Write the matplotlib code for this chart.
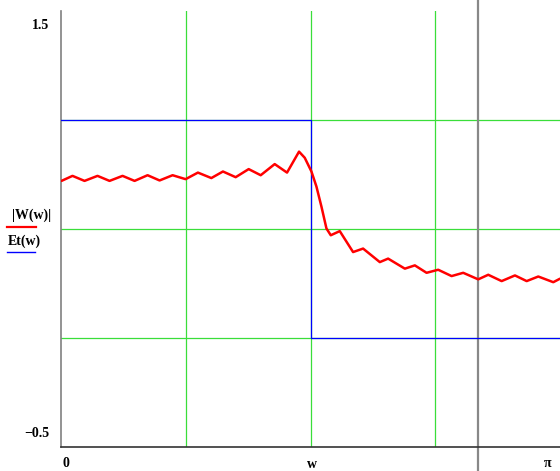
import numpy as np
import matplotlib
matplotlib.use("Agg")
import matplotlib.pyplot as plt

# |W(w)| (peaks / troughs of the ripple)
w_x = [0.0, 0.0694, 0.1451, 0.2271, 0.3028, 0.3848, 0.4605, 0.5425, 0.6182, 0.7002,
       0.7822, 0.8598, 0.9444, 1.0175, 1.0977, 1.1797, 1.2554, 1.3437, 1.4213, 1.4970,
       1.5329, 1.5752, 1.6067, 1.6383, 1.6698, 1.6970, 1.7537, 1.8376, 1.9007, 2.0061,
       2.0584, 2.1638, 2.2269, 2.3007, 2.3739, 2.4584, 2.5316, 2.6262, 2.6893, 2.7738,
       2.8577, 2.9315, 3.0047, 3.0993, 3.1416]
w_y = [0.721, 0.744, 0.721, 0.744, 0.721, 0.744, 0.721, 0.747, 0.723, 0.747,
       0.729, 0.759, 0.734, 0.764, 0.738, 0.775, 0.747, 0.798, 0.759, 0.855,
       0.827, 0.764, 0.695, 0.603, 0.503, 0.472, 0.491, 0.395, 0.411, 0.349,
       0.365, 0.319, 0.334, 0.300, 0.314, 0.285, 0.300, 0.270, 0.291, 0.262,
       0.288, 0.262, 0.283, 0.257, 0.273]

# ideal filter Et(w)
cutoff = np.pi / 2
et_x = [0.0, cutoff, np.pi]
et_y = [1.0, 0.0, 0.0]

grid_x = [np.pi / 4, np.pi / 2, 3 * np.pi / 4]
grid_y = [0.0, 0.5, 1.0]
marker_x = 2.624

fig = plt.figure(figsize=(5.6, 4.71), dpi=100)
ax = fig.add_axes([0.1098, 0.050, 0.8902, 0.927])
ax.set_xlim(0, np.pi)
ax.set_ylim(-0.5, 1.5)

for gx in grid_x:
    ax.axvline(gx, color="#3ade3a", lw=0.9, zorder=1)
for gy in grid_y:
    ax.axhline(gy, color="#3ade3a", lw=0.9, zorder=1)

ax.axvline(marker_x, ymin=-0.06, ymax=1.03, color="#888888", lw=1.6,
           clip_on=False, zorder=2)

ax.plot(et_x, et_y, color="#0000ff", lw=0.9, drawstyle="steps-post", zorder=3)
ax.plot(w_x, w_y, color="#ff0000", lw=1.8, zorder=4,
        solid_joinstyle="round", solid_capstyle="round")

for s in ["top", "right"]:
    ax.spines[s].set_visible(False)
ax.spines["left"].set_color("#808080")
ax.spines["left"].set_linewidth(1.2)
ax.spines["bottom"].set_color("#333333")
ax.spines["bottom"].set_linewidth(1.2)
ax.set_xticks([])
ax.set_yticks([])

fnt = dict(family="Liberation Serif", fontweight="bold", fontsize=10)
ytr = ax.get_yaxis_transform()
xtr = ax.get_xaxis_transform()
ax.annotate("1.5", xy=(0, 1.5), xycoords=ytr, xytext=(-12, -15),
            textcoords="offset pixels", ha="right", va="center", **fnt)
ax.annotate("\u22120.5", xy=(0, -0.5), xycoords=ytr, xytext=(-12, 14),
            textcoords="offset pixels", ha="right", va="center", **fnt)
ax.annotate("0", xy=(0, 0), xycoords=xtr, xytext=(1, -16),
            textcoords="offset pixels", ha="left", va="center", **fnt)
ax.annotate("w", xy=(cutoff, 0), xycoords=xtr, xytext=(1, -17),
            textcoords="offset pixels", ha="center", va="center", **fnt)
ax.annotate("\u03c0", xy=(np.pi, 0), xycoords=xtr, xytext=(-9, -16),
            textcoords="offset pixels", ha="right", va="center", **fnt)

# legend, Mathcad style, left of the plot
fig.text(12 / 560, 1 - 215 / 471, "|W(w)|", ha="left", va="center", **fnt)
fig.add_artist(plt.Line2D([7 / 560, 36 / 560], [1 - 227 / 471] * 2,
                          color="#ff0000", lw=1.6))
fig.text(8 / 560, 1 - 241 / 471, "Et(w)", ha="left", va="center", **fnt)
fig.add_artist(plt.Line2D([7 / 560, 35 / 560], [1 - 252 / 471] * 2,
                          color="#0000ff", lw=1.0))

fig.savefig("out.png", dpi=100)
